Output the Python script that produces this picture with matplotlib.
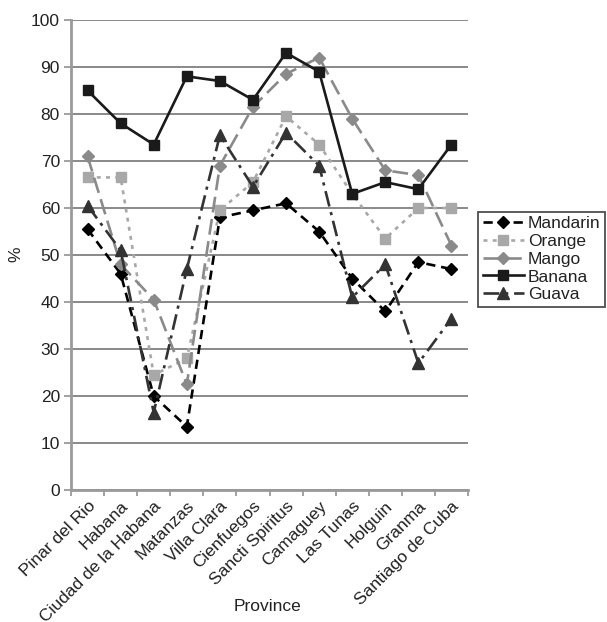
import numpy as np
import matplotlib
matplotlib.use("Agg")
import matplotlib.pyplot as plt

plt.rcParams["font.family"] = ["Liberation Sans", "DejaVu Sans"]

# ── data ───────────────────────────────────────────
provinces = ["Pinar del Rio", "Habana", "Ciudad de la Habana", "Matanzas",
             "Villa Clara", "Cienfuegos", "Sancti Spiritus", "Camaguey",
             "Las Tunas", "Holguin", "Granma", "Santiago de Cuba"]

mandarin = [55.5, 46, 20, 13.5, 58, 59.5, 61, 55, 45, 38, 48.5, 47]
orange   = [66.5, 66.5, 24.5, 28, 59.5, 65.5, 79.5, 73.5, 63, 53.5, 60, 60]
mango    = [71, 48, 40.5, 22.5, 69, 81.5, 88.5, 92, 79, 68, 67, 52]
banana   = [85, 78, 73.5, 88, 87, 83, 93, 89, 63, 65.5, 64, 73.5]
guava    = [60.5, 51, 16.5, 47, 75.5, 64.5, 76, 69, 41, 48, 27, 36.5]

y_ticks = list(range(0, 101, 10))

# ── plot ────────────────────────────────────────────
fig = plt.figure(figsize=(6.07, 6.22), dpi=100)
ax = fig.add_axes([0.117, 0.212, 0.654, 0.756])

x = np.arange(len(provinces))
fs = 12.5
txt = "#222222"

ax.plot(x, mandarin, color="black", lw=1.9, dashes=(3.5, 2.2),
        marker="D", ms=6, label="Mandarin")
ax.plot(x, orange, color="#a8a8a8", lw=1.9, dashes=(1.5, 2.0),
        marker="s", ms=7.5, label="Orange")
ax.plot(x, mango, color="#8a8a8a", lw=1.9, dashes=(6, 2.5),
        marker="D", ms=6, label="Mango")
ax.plot(x, banana, color="#1a1a1a", lw=1.9,
        marker="s", ms=7.5, label="Banana")
ax.plot(x, guava, color="#333333", lw=1.9, dashes=(6, 2.2, 1.2, 2.2),
        marker="^", ms=8, label="Guava")

ax.set_xlim(-0.5, len(provinces) - 0.5)
ax.set_ylim(0, 100)
ax.set_yticks(y_ticks)
ax.yaxis.grid(True, color="#808080", lw=1.3)
ax.set_axisbelow(True)

for s in ["top", "right"]:
    ax.spines[s].set_visible(False)
for s in ["left", "bottom"]:
    ax.spines[s].set_color("#9a9a9a")
    ax.spines[s].set_linewidth(2)

ax.tick_params(axis="y", colors="#9a9a9a", length=5, width=1.3,
               labelcolor=txt, labelsize=fs, pad=3)
ax.set_xticks(x)
ax.set_xticklabels(provinces, rotation=45, ha="right",
                   rotation_mode="anchor", fontsize=fs, color=txt)
ax.tick_params(axis="x", length=0, pad=6)
ax.set_xticks(np.arange(-0.5, len(provinces)), minor=True)
ax.tick_params(axis="x", which="minor", length=4, width=1.3, color="#9a9a9a")

ax.set_xlabel("Province", fontsize=fs, color=txt)
ax.xaxis.set_label_coords(0.496, -0.232)
ax.set_ylabel("%", fontsize=fs, color=txt)
ax.yaxis.set_label_coords(-0.121, 0.502)

leg = ax.legend(loc="upper left", bbox_to_anchor=(1.026, 0.592),
                fontsize=fs, frameon=True, fancybox=False,
                borderpad=0.25, labelspacing=0.15, handlelength=2.4,
                handletextpad=0.2, borderaxespad=0)
leg.get_frame().set_edgecolor("#222222")
leg.get_frame().set_linewidth(1.3)
for t in leg.get_texts():
    t.set_color(txt)

fig.savefig("out.png", dpi=100)
